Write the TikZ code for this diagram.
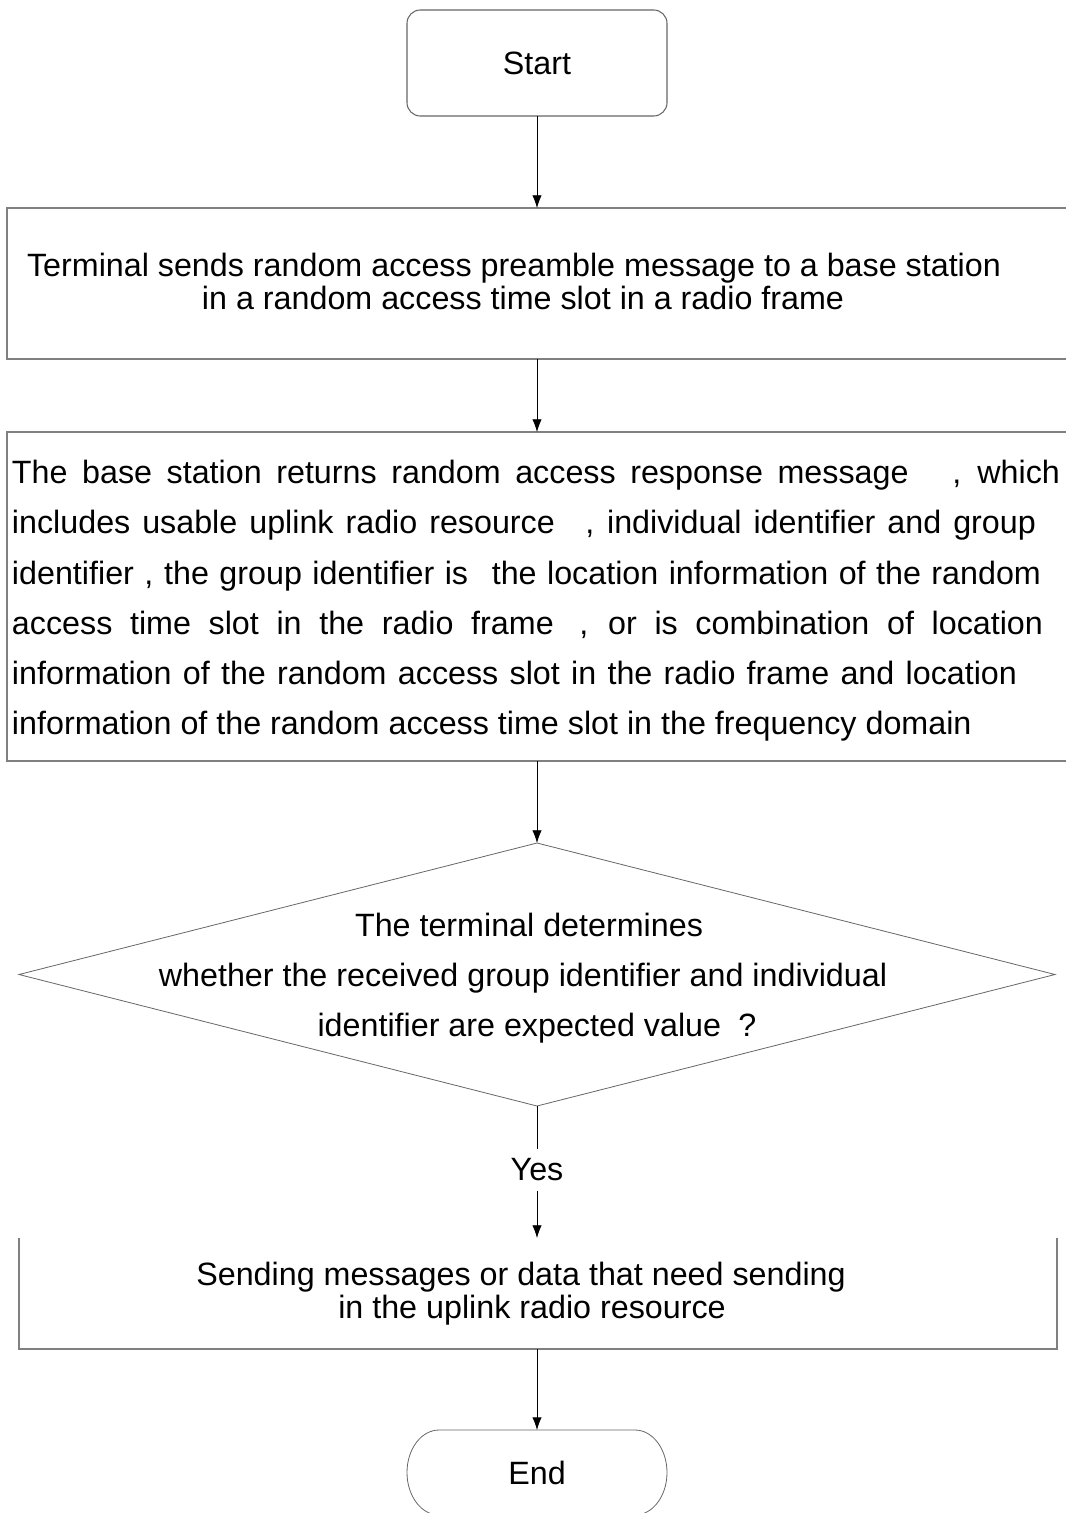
\documentclass[tikz,border=0pt]{standalone}
\usepackage{fontspec}
\setmainfont{Liberation Sans}
\usetikzlibrary{arrows.meta,shapes.geometric}
\begin{document}
\begin{tikzpicture}[x=0.75pt,y=-0.75pt,
  boxline/.style={draw=black!50, line width=0.9pt},
  plainbox/.style={inner sep=0pt, outer sep=0pt},
  arr/.style={draw=black, line width=0.6pt, -{Latex[length=9.5pt,width=7pt]}},
  link/.style={draw=black, line width=0.6pt},
  txt/.style={font=\fontsize{24.2pt}{28pt}\selectfont, inner sep=0pt, outer sep=0pt, anchor=base},
  txtl/.style={txt, anchor=base west}]
\useasboundingbox (0,0) rectangle (1066,1513);

% Start
\node[draw=black!60, line width=0.8pt, rounded corners=10pt, minimum width=195pt, minimum height=79.5pt, outer sep=0pt, font=\fontsize{24.2pt}{28pt}\selectfont] (start) at (537,63) {Start};

% Box 1
\node[boxline, plainbox, anchor=north west, minimum width=825pt, minimum height=113.25pt] (box1) at (7,208) {};
\node[txt] (t1a) at (514,276) {Terminal sends random access preamble message to a base station};
\node[txt] (t1b) at (523,309) {in a random access time slot in a radio frame};

% Box 2
\node[boxline, plainbox, anchor=north west, minimum width=825pt, minimum height=246.75pt] (box2) at (7,432) {};
\node[txtl] (t2a) at (12,483) {\makebox[786pt][s]{The base station returns random access response message\hspace{22pt} , which}};
\node[txtl] (t2b) at (12,533) {\makebox[768pt][s]{includes usable uplink radio resource\hspace{14pt} , individual identifier and group}};
\node[txtl] (t2c) at (12,584) {\makebox[771.75pt][s]{identifier , the group identifier is\hspace{10pt} the location information of the random}};
\node[txtl] (t2d) at (12,634) {\makebox[773.25pt][s]{access time slot in the radio frame\hspace{6pt} , or is combination of location}};
\node[txtl] (t2e) at (12,684) {\makebox[753.75pt][s]{information of the random access slot in the radio frame and location}};
\node[txtl] (t2f) at (12,734) {information of the random access time slot in the frequency domain};

% Decision
\node[draw=black!60, line width=0.6pt, diamond, minimum width=777pt, minimum height=197.25pt, inner sep=0pt, outer sep=0pt] (dia) at (537,974.5) {};
\node[txt] (d1) at (529,936) {The terminal determines};
\node[txt] (d2) at (523,986) {whether the received group identifier and individual};
\node[txt] (d3) at (537,1036) {identifier are expected value\hspace{13pt}?};

% Yes label
\node[font=\fontsize{24.2pt}{28pt}\selectfont, inner sep=7pt, outer sep=0pt] (yes) at (537,1170) {Yes};

% Box 3 (no top border)
\node[plainbox, anchor=north west, minimum width=778.5pt, minimum height=83.25pt] (box3) at (19,1238) {};
\draw[boxline] (box3.north west) -- (box3.south west) -- (box3.south east) -- (box3.north east);
\node[txt] (t3a) at (521,1285) {Sending messages or data that need sending};
\node[txt] (t3b) at (532,1318) {in the uplink radio resource};

% End terminator
\node[plainbox, minimum width=195pt, minimum height=63.75pt, font=\fontsize{24.2pt}{28pt}\selectfont] (end) at (537,1472.5) {End};
\draw[draw=black!60, line width=0.6pt]
  ([xshift=24pt]end.north west) -- ([xshift=-24pt]end.north east)
  arc[start angle=-90, end angle=90, x radius=32, y radius=42.5]
  -- ([xshift=24pt]end.south west)
  arc[start angle=90, end angle=270, x radius=32, y radius=42.5] -- cycle;

% Connectors
\draw[arr] (start.south) -- (start.south |- box1.north);
\draw[arr] (start.south |- box1.south) -- (start.south |- box2.north);
\draw[arr] (start.south |- box2.south) -- (dia.north);
\draw[link] (dia.south) -- (yes.north);
\draw[arr] (yes.south) -- (yes.south |- box3.north);
\draw[arr] (yes.south |- box3.south) -- (end.north);
\end{tikzpicture}
\end{document}
